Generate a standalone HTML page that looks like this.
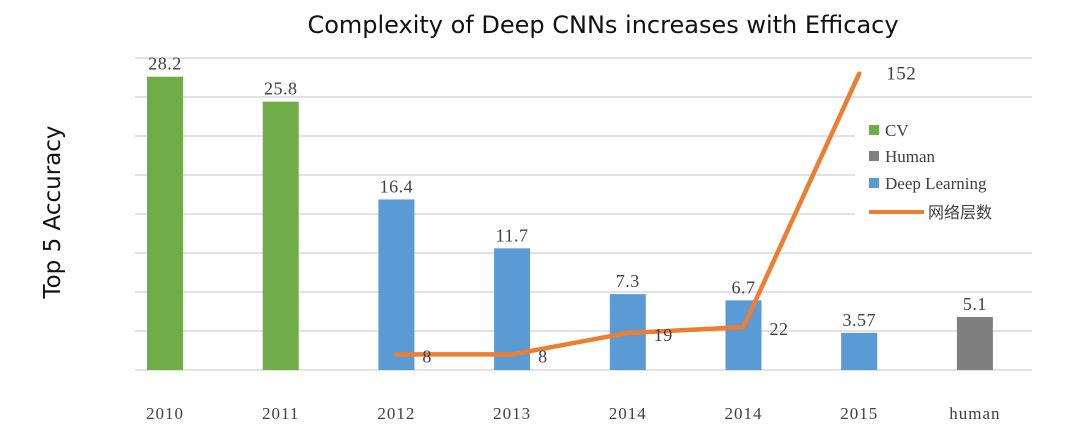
<!DOCTYPE html>
<html><head><meta charset="utf-8"><style>
html,body{margin:0;padding:0;background:#fff;width:1080px;height:437px;overflow:hidden}
text{font-family:"Liberation Serif","Noto Serif CJK SC",serif}
</style></head><body>
<svg id="chart" width="1080" height="437" xmlns="http://www.w3.org/2000/svg">
<text x="603" y="33" text-anchor="middle" font-size="24" style="font-family:'DejaVu Sans','Liberation Sans',sans-serif" fill="#111">Complexity of Deep CNNs increases with Efficacy</text>
<text transform="translate(60,212) rotate(-90)" text-anchor="middle" font-size="23" style="font-family:'DejaVu Sans','Liberation Sans',sans-serif" fill="#111">Top 5 Accuracy</text>
<g id="grid"></g><g id="bars"></g><g id="line"></g>
<g>
<rect x="869" y="125" width="10" height="10" fill="#70ad47"/>
<text x="885" y="136" font-size="17" fill="#404040">CV</text>
<rect x="869" y="151" width="10" height="10" fill="#7f7f7f"/>
<text x="885" y="162" font-size="17" fill="#404040">Human</text>
<rect x="869" y="178" width="10" height="10" fill="#5b9bd5"/>
<text x="885" y="189" font-size="17" fill="#404040">Deep Learning</text>
<line x1="869" y1="212" x2="924" y2="212" stroke="#ed7d31" stroke-width="4"/>
<text x="928" y="218" font-size="16" fill="#404040" style="font-family:'Noto Sans CJK SC',sans-serif">网络层数</text>
</g>
</svg>
<script>
const categories=["2010","2011","2012","2013","2014","2014","2015","human"];
const barValues=[28.2,25.8,16.4,11.7,7.3,6.7,3.57,5.1];
const barLabels=["28.2","25.8","16.4","11.7","7.3","6.7","3.57","5.1"];
const barSeries=["cv","cv","dl","dl","dl","dl","dl","human"];
const lineIdx=[2,3,4,5,6];
const lineValues=[8,8,19,22,152];
const colors={cv:"#70ad47",dl:"#5b9bd5",human:"#7f7f7f"};
const NS="http://www.w3.org/2000/svg";
const base=370,plotTop=58;
const yBar=v=>base-v*(base-plotTop)/30;
const yLine=v=>base-v*1.95;
const xC=i=>165+i*115.7;
function mk(t,a,p){const e=document.createElementNS(NS,t);for(const k in a)e.setAttribute(k,a[k]);p.appendChild(e);return e;}
const grid=document.getElementById('grid');
for(let k=0;k<=8;k++){const y=base-k*39;
 const legendGap=(k>=4&&k<=6);
 const l=mk('line',{x1:135,x2:legendGap?855:1032,y1:y,y2:y,stroke:'#d9d9d9','stroke-width':1.5},grid);
 
 }
const bars=document.getElementById('bars');
barValues.forEach((v,i)=>{
 const r=mk('rect',{x:xC(i)-18,y:yBar(v),width:36,height:base-yBar(v),fill:colors[barSeries[i]]},bars);
 
 
 const t=mk('text',{x:xC(i),y:yBar(v)-7,'text-anchor':'middle','font-size':18,fill:'#404040','letter-spacing':'0.5'},bars);t.textContent=barLabels[i];
 
 
 const c=mk('text',{x:xC(i),y:419,'text-anchor':'middle','font-size':17,fill:'#404040','letter-spacing':'1'},bars);c.textContent=categories[i];
 
 
});
const lg=document.getElementById('line');
const pts=lineIdx.map((ix,k)=>[xC(ix),yLine(lineValues[k])]);
const path=mk('polyline',{points:pts.map(p=>p.join(',')).join(' '),fill:'none',stroke:'#ed7d31','stroke-width':4.5,'stroke-linejoin':'round','stroke-linecap':'round'},lg);


pts.forEach((p,k)=>{
 const t=mk('text',{x:p[0]+(k===4?27:26),y:p[1]+(k===4?6:8),'font-size':k===4?19:18,fill:'#404040','letter-spacing':'0.5'},lg);t.textContent=lineValues[k];
 
 
});
</script>
</body></html>
